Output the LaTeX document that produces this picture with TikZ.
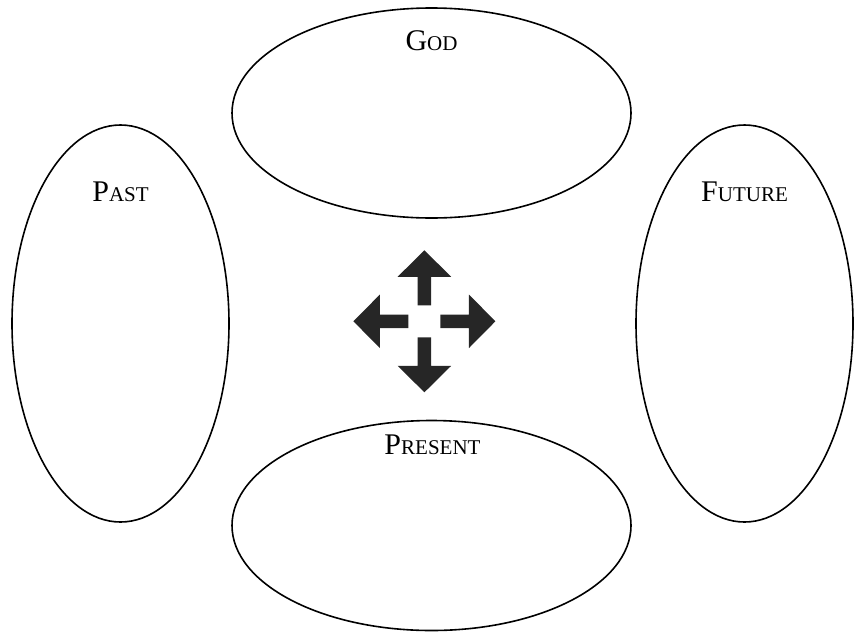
\documentclass[tikz,border=0pt]{standalone}
\usepackage{fontspec}
\setmainfont{Liberation Serif}
\usetikzlibrary{shapes.geometric}
\newcommand{\fakesc}[2]{{\fontsize{15}{15}\selectfont #1}{\fontsize{10.5}{10.5}\selectfont #2}}
\tikzset{
  bubble/.style={draw, ellipse, line width=0.8pt, inner sep=0pt},
  wide/.style={minimum width=199.5pt, minimum height=105pt},
  tall/.style={minimum width=108.5pt, minimum height=198.5pt},
  title/.style={anchor=base, inner sep=0pt}
}
\begin{document}
\begin{tikzpicture}[x=0.5pt,y=-0.5pt]
      \useasboundingbox (0,0) rectangle (861,632);
      \def\midx{424.4}
      \def\midy{321.3}
      \node[bubble,wide] (god) at (431.5,113) {};
      \node[bubble,wide] (present) at (431.5,525.5) {};
      \node[bubble,tall] (past) at (120.5,323.5) {};
      \node[bubble,tall] (future) at (744.5,323.5) {};
      \node[title] (godtext) at (431.5,50) {\fakesc{G}{OD}};
      \node[title] (pasttext) at (120.5,201.5) {\fakesc{P}{AST}};
      \node[title] (futuretext) at (744.5,201.5) {\fakesc{F}{UTURE}};
      \node[title] (presenttext) at (432.5,454) {\fakesc{P}{RESENT}};
      \foreach \angle in {0,90,180,270} {
        \fill[black!85, shift={(\midx,\midy)}, rotate=\angle]
          (16,-6.8) -- (44.5,-6.8) -- (44.5,-26.8) -- (71,0) -- (44.5,26.8) -- (44.5,6.8) -- (16,6.8) -- cycle;
      }
    \end{tikzpicture}
\end{document}
